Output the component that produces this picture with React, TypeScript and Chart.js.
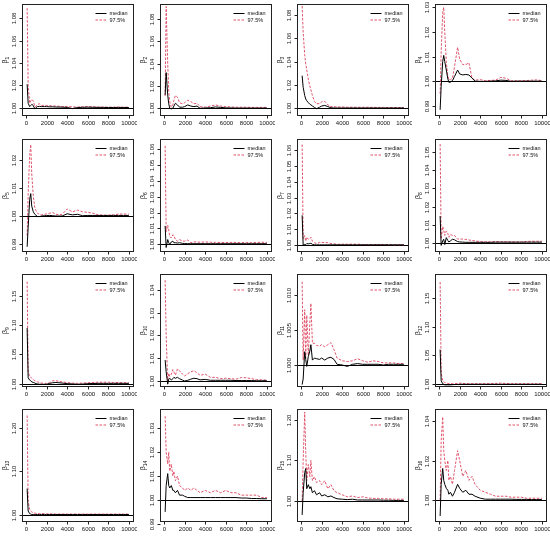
import { useEffect, useRef } from "react";
import { Chart, registerables } from "chart.js";
Chart.register(...registerables);

const ITER = [100, 200, 350, 450, 550, 700, 850, 950, 1100, 1300, 1500, 1800, 2000, 2300, 2600, 2900, 3200, 3500, 4000, 4500, 5000, 5500, 6000, 6500, 7000, 7500, 8000, 8500, 9000, 9500, 10000];
const X_TICKS = [0, 2000, 4000, 6000, 8000, 10000];
const LEGEND_LABELS = ["median", "97.5%"];
const PARAM_SUBS = ["1", "2", "3", "4", "5", "6", "7", "8", "9", "10", "11", "12", "13", "14", "15", "16"];

const MED_1 = [1.021, 1.004, 1.001, 1.002, 1.003, 1.002, 0.9988, 1.000, 1.001, 1.0012, 1.001, 1.001, 1.001, 1.0008, 1.0008, 1.0006, 1.0006, 1.0005, 1.0003, 0.9992, 1.0002, 1.0004, 1.0005, 1.0004, 1.0003, 1.0003, 1.0002, 1.0002, 1.0003, 1.0002, 1.0002];
const UP_1 = [1.089, 1.02, 1.004, 1.006, 1.0075, 1.006, 1.001, 1.001, 1.003, 1.0035, 1.002, 1.0022, 1.002, 1.0018, 1.0016, 1.0015, 1.0013, 1.001, 1.0012, 1.0008, 1.0006, 1.0008, 1.001, 1.0008, 1.0006, 1.0006, 1.0005, 1.0005, 1.0006, 1.0005, 1.0005];
const MED_2 = [1.012, 1.032, 1.012, 1.004, 1.000, 0.9995, 1.000, 1.002, 1.0045, 1.003, 1.001, 1.001, 1.0015, 1.003, 1.002, 1.0015, 1.002, 1.000, 1.0003, 1.0005, 1.0012, 1.0008, 1.0004, 1.0003, 1.0002, 1.0002, 1.0002, 1.0002, 1.0002, 1.0002, 1.0002];
const UP_2 = [1.011, 1.091, 1.04, 1.015, 1.006, 1.001, 1.003, 1.007, 1.0115, 1.010, 1.005, 1.004, 1.005, 1.0072, 1.006, 1.004, 1.0045, 1.0015, 1.001, 1.002, 1.003, 1.002, 1.0015, 1.0012, 1.001, 1.001, 1.001, 1.0008, 1.0008, 1.0008, 1.0008];
const MED_3 = [1.028, 1.018, 1.011, 1.008, 1.0065, 1.005, 1.0035, 1.003, 1.002, 1.0008, 0.9997, 1.001, 1.002, 1.0025, 1.0015, 1.0005, 1.0003, 1.0003, 1.0003, 1.0003, 1.0003, 1.0003, 1.0003, 1.0003, 1.0003, 1.0003, 1.0003, 1.0003, 1.0003, 1.0003, 1.0003];
const UP_3 = [1.0877, 1.065, 1.046, 1.038, 1.033, 1.025, 1.019, 1.016, 1.011, 1.006, 1.004, 1.004, 1.0055, 1.006, 1.003, 1.0015, 1.0014, 1.0012, 1.0012, 1.001, 1.001, 1.0009, 1.0009, 1.0009, 1.0008, 1.0008, 1.0008, 1.0007, 1.0007, 1.0007, 1.0007];
const MED_4 = [0.9885, 0.998, 1.008, 1.0105, 1.008, 1.0046, 1.001, 0.9996, 0.9997, 1.0003, 1.002, 1.0046, 1.003, 1.0026, 1.0028, 1.0026, 1.0013, 1.0001, 1.0000, 1.0000, 1.0001, 1.0002, 1.0005, 1.0004, 1.0000, 1.0001, 1.0001, 1.0001, 1.0001, 1.0001, 1.0001];
const UP_4 = [0.995, 1.012, 1.028, 1.030, 1.02, 1.008, 1.002, 1.0007, 1.0007, 1.0013, 1.006, 1.0138, 1.009, 1.0068, 1.0068, 1.0075, 1.0013, 1.0005, 1.0007, 1.0003, 1.0004, 1.0005, 1.0016, 1.0013, 1.0003, 1.0002, 1.0002, 1.0003, 1.0005, 1.0006, 1.0003];
const MED_5 = [0.989, 0.996, 1.006, 1.008, 1.0035, 1.0015, 1.0006, 1.0003, 0.9998, 0.9998, 1.0000, 1.0001, 1.0002, 1.0002, 1.0001, 1.0000, 1.0000, 1.0000, 1.0008, 1.0004, 1.0006, 1.0001, 1.0002, 1.0002, 1.0002, 1.0002, 1.0002, 1.0002, 1.0002, 1.0002, 1.0002];
const UP_5 = [0.993, 1.008, 1.022, 1.0255, 1.015, 1.007, 1.003, 1.002, 1.001, 1.0006, 1.0004, 1.0006, 1.0008, 1.001, 1.0012, 1.0006, 1.0005, 1.0006, 1.0025, 1.0015, 1.0021, 1.0015, 1.0013, 1.001, 1.0004, 1.0003, 1.0003, 1.0004, 1.0007, 1.0007, 1.0007];
const MED_6 = [1.0116, 0.998, 1.003, 1.001, 1.000, 1.0015, 1.002, 1.001, 1.001, 1.0008, 1.001, 1.0006, 1.0005, 1.0004, 1.0004, 1.0004, 1.0004, 1.0004, 1.0004, 1.0004, 1.0004, 1.0004, 1.0004, 1.0004, 1.0004, 1.0004, 1.0004, 1.0004, 1.0004, 1.0004, 1.0004];
const UP_6 = [1.062, 1.008, 1.012, 1.009, 1.005, 1.004, 1.006, 1.0055, 1.003, 1.002, 1.003, 1.002, 1.002, 1.0027, 1.001, 1.0015, 1.0015, 1.0013, 1.0015, 1.0013, 1.0012, 1.0012, 1.0011, 1.0012, 1.0012, 1.001, 1.0012, 1.001, 1.0012, 1.0013, 1.0012];
const MED_7 = [1.0188, 1.000, 1.0005, 1.0003, 1.001, 1.0008, 1.001, 1.0012, 1.0005, 1.0002, 1.0002, 1.0002, 1.0002, 1.0002, 1.0002, 1.0002, 1.0002, 1.0002, 1.0002, 1.0002, 1.0002, 1.0002, 1.0002, 1.0002, 1.0002, 1.0002, 1.0002, 1.0002, 1.0002, 1.0002, 1.0002];
const UP_7 = [1.0635, 1.004, 1.006, 1.0025, 1.005, 1.0037, 1.004, 1.005, 1.0025, 1.0015, 1.001, 1.0017, 1.0017, 1.0017, 1.0015, 1.001, 1.0008, 1.0005, 1.0006, 1.0006, 1.0006, 1.0006, 1.0004, 1.0003, 1.0003, 1.0004, 1.0004, 1.0003, 1.0002, 1.0002, 1.0002];
const MED_8 = [1.0148, 0.9985, 1.001, 1.0019, 0.999, 1.0028, 1.0012, 1.0004, 1.001, 1.0019, 1.0016, 1.0006, 1.0004, 1.0003, 1.0002, 1.0002, 1.0002, 1.0002, 1.0002, 1.0002, 1.0002, 1.0003, 1.0003, 1.0003, 1.0003, 1.0003, 1.0003, 1.0003, 1.0003, 1.0003, 1.0003];
const UP_8 = [1.0546, 1.002, 1.009, 1.007, 1.004, 1.0065, 1.005, 1.003, 1.0046, 1.004, 1.004, 1.002, 1.002, 1.002, 1.0018, 1.0015, 1.0012, 1.001, 1.0006, 1.0005, 1.0005, 1.0006, 1.0005, 1.0005, 1.0004, 1.0004, 1.0004, 1.0007, 1.0008, 1.0008, 1.0008];
const MED_9 = [1.095, 1.01, 1.006, 1.005, 1.003, 1.002, 1.001, 1.000, 0.9995, 0.999, 0.999, 0.9988, 0.999, 1.0005, 1.0015, 1.002, 1.0015, 1.001, 1.000, 0.9995, 0.999, 0.9993, 1.000, 1.0003, 1.0005, 1.0005, 1.0005, 1.0005, 1.0005, 1.0005, 1.0005];
const UP_9 = [1.174, 1.02, 1.012, 1.011, 1.009, 1.007, 1.005, 1.004, 1.003, 1.002, 1.001, 1.0005, 1.0005, 1.002, 1.005, 1.005, 1.004, 1.003, 1.002, 1.001, 1.0005, 1.001, 1.0015, 1.002, 1.0025, 1.0025, 1.0025, 1.002, 1.002, 1.0015, 1.0015];
const MED_10 = [1.0092, 1.004, 0.9986, 1.0008, 1.0012, 1.0004, 1.001, 1.0016, 1.0012, 1.0016, 1.001, 1.0004, 1.0000, 1.0003, 1.0008, 1.0012, 1.001, 1.0005, 1.0007, 1.0003, 1.0003, 1.0003, 1.0003, 1.0003, 1.0002, 1.0002, 1.0002, 1.0002, 1.0001, 1.0001, 1.0001];
const UP_10 = [1.0443, 1.02, 0.9995, 1.0034, 1.002, 1.003, 1.005, 1.004, 1.0026, 1.0053, 1.0045, 1.003, 1.0022, 1.0032, 1.004, 1.0045, 1.0036, 1.0025, 1.003, 1.0016, 1.0016, 1.001, 1.0012, 1.001, 1.0008, 1.0015, 1.0014, 1.001, 1.0006, 1.0005, 1.0004];
const MED_11 = [0.9972, 0.998, 1.0019, 1.0008, 0.9998, 1.0012, 1.002, 1.0029, 1.0007, 1.001, 1.0009, 1.0008, 1.001, 1.0007, 1.001, 1.0011, 1.0008, 1.0001, 1.0000, 0.9998, 1.0001, 1.0002, 1.0001, 1.0001, 1.0001, 1.0001, 1.0000, 1.0001, 1.0001, 1.0001, 1.0001];
const UP_11 = [1.0119, 1.0007, 1.0079, 1.0010, 1.0071, 1.0014, 1.006, 1.0088, 1.0031, 1.0031, 1.0028, 1.0027, 1.0029, 1.0026, 1.0029, 1.0032, 1.0022, 1.0010, 1.0006, 1.0005, 1.0006, 1.0009, 1.0006, 1.0004, 1.0006, 1.0005, 1.0003, 1.0003, 1.0003, 1.0002, 1.0002];
const MED_12 = [1.06, 1.006, 1.001, 1.000, 0.999, 0.999, 0.999, 0.999, 0.999, 0.9993, 0.9995, 0.9997, 1.000, 1.000, 1.000, 1.000, 1.000, 1.000, 1.000, 1.000, 1.000, 1.000, 1.000, 1.000, 1.000, 1.000, 1.000, 1.000, 1.000, 1.000, 1.000];
const UP_12 = [1.177, 1.02, 1.006, 1.004, 1.003, 1.002, 1.0015, 1.0012, 1.001, 1.001, 1.001, 1.0015, 1.002, 1.0015, 1.001, 1.001, 1.001, 1.001, 1.001, 1.001, 1.001, 1.0015, 1.002, 1.0015, 1.001, 1.001, 1.001, 1.001, 1.001, 1.001, 1.001];
const MED_13 = [1.06, 1.008, 1.002, 1.001, 1.000, 1.000, 1.000, 1.000, 1.000, 1.000, 1.000, 1.000, 1.000, 1.000, 1.000, 1.000, 1.000, 1.000, 1.000, 1.000, 1.000, 1.000, 1.000, 1.000, 1.000, 1.000, 1.000, 1.000, 1.000, 1.000, 1.000];
const UP_13 = [1.23, 1.03, 1.012, 1.008, 1.006, 1.004, 1.003, 1.003, 1.002, 1.002, 1.002, 1.002, 1.0015, 1.0015, 1.0015, 1.001, 1.001, 1.001, 1.001, 1.001, 1.001, 1.001, 1.001, 1.001, 1.001, 1.001, 1.001, 1.001, 1.001, 1.001, 1.001];
const MED_14 = [0.995, 1.006, 1.011, 1.006, 1.005, 1.006, 1.004, 1.004, 1.003, 1.004, 1.002, 1.002, 1.0015, 1.001, 1.001, 1.001, 1.001, 1.001, 1.001, 1.001, 1.001, 1.001, 1.001, 1.001, 1.001, 1.0008, 1.0008, 1.0006, 1.0006, 1.0005, 1.0005];
const UP_14 = [1.035, 1.02, 1.015, 1.02, 1.012, 1.015, 1.01, 1.012, 1.008, 1.01, 1.006, 1.005, 1.004, 1.005, 1.004, 1.005, 1.004, 1.003, 1.004, 1.003, 1.004, 1.003, 1.004, 1.003, 1.003, 1.002, 1.002, 1.002, 1.002, 1.001, 1.001];
const MED_15 = [0.965, 1.02, 1.07, 1.08, 1.03, 1.04, 1.03, 1.035, 1.02, 1.025, 1.015, 1.02, 1.012, 1.015, 1.01, 1.012, 1.008, 1.005, 1.004, 1.003, 1.004, 1.002, 1.002, 1.002, 1.002, 1.002, 1.0015, 1.0015, 1.001, 1.001, 1.001];
const UP_15 = [1.00, 1.10, 1.22, 1.12, 1.05, 1.09, 1.06, 1.10, 1.05, 1.06, 1.045, 1.05, 1.04, 1.05, 1.03, 1.04, 1.025, 1.02, 1.015, 1.01, 1.012, 1.008, 1.01, 1.007, 1.006, 1.006, 1.005, 1.005, 1.004, 1.004, 1.004];
const MED_16 = [0.992, 1.008, 1.016, 1.01, 1.008, 1.006, 1.005, 1.003, 1.004, 1.002, 1.004, 1.008, 1.006, 1.004, 1.005, 1.003, 1.003, 1.002, 1.001, 1.0005, 1.0005, 1.0005, 1.0005, 1.0005, 1.0005, 1.0004, 1.0004, 1.0004, 1.0003, 1.0003, 1.0003];
const UP_16 = [1.00, 1.03, 1.042, 1.025, 1.02, 1.015, 1.02, 1.01, 1.012, 1.008, 1.015, 1.025, 1.02, 1.012, 1.015, 1.01, 1.012, 1.008, 1.005, 1.004, 1.003, 1.002, 1.002, 1.002, 1.0015, 1.0015, 1.0015, 1.001, 1.001, 1.001, 1.001];

const YT_A = [1.0, 1.02, 1.04, 1.06, 1.08];
const YT_B = [0.99, 1.0, 1.01, 1.02, 1.03];
const YT_C = [0.99, 1.0, 1.01, 1.02];
const YT_D = [1.0, 1.01, 1.02, 1.03, 1.04, 1.05, 1.06];
const YT_E = [1.0, 1.01, 1.02, 1.03, 1.04, 1.05];
const YT_F = [1.0, 1.05, 1.1, 1.15];
const YT_G = [1.0, 1.01, 1.02, 1.03, 1.04];
const YT_H = [1.0, 1.005, 1.01];
const YT_I = [1.0, 1.1, 1.2];
const YT_J = [1.0, 1.02, 1.04];

const PANELS = [
  { med: MED_1, up: UP_1, ticks: YT_A, lo: 0.9935, hi: 1.0927, dec: 2 },
  { med: MED_2, up: UP_2, ticks: YT_A, lo: 0.994, hi: 1.0933, dec: 2 },
  { med: MED_3, up: UP_3, ticks: YT_A, lo: 0.9943, hi: 1.0894, dec: 2 },
  { med: MED_4, up: UP_4, ticks: YT_B, lo: 0.9864, hi: 1.0313, dec: 2 },
  { med: MED_5, up: UP_5, ticks: YT_C, lo: 0.9875, hi: 1.0275, dec: 2 },
  { med: MED_6, up: UP_6, ticks: YT_D, lo: 0.9958, hi: 1.0663, dec: 2 },
  { med: MED_7, up: UP_7, ticks: YT_D, lo: 0.9963, hi: 1.067, dec: 2 },
  { med: MED_8, up: UP_8, ticks: YT_E, lo: 0.9954, hi: 1.0574, dec: 2 },
  { med: MED_9, up: UP_9, ticks: YT_F, lo: 0.996, hi: 1.187, dec: 2 },
  { med: MED_10, up: UP_10, ticks: YT_G, lo: 0.9978, hi: 1.047, dec: 2 },
  { med: MED_11, up: UP_11, ticks: YT_H, lo: 0.997, hi: 1.013, dec: 3 },
  { med: MED_12, up: UP_12, ticks: YT_F, lo: 0.997, hi: 1.191, dec: 2 },
  { med: MED_13, up: UP_13, ticks: YT_I, lo: 0.985, hi: 1.245, dec: 2 },
  { med: MED_14, up: UP_14, ticks: YT_B, lo: 0.9912, hi: 1.038, dec: 2 },
  { med: MED_15, up: UP_15, ticks: YT_I, lo: 0.95, hi: 1.2275, dec: 2 },
  { med: MED_16, up: UP_16, ticks: YT_J, lo: 0.9895, hi: 1.046, dec: 2 },
];

const RED = "#DF536B";
const FONT = '"Liberation Sans", Arial, sans-serif';

const framePlugin = {
  id: "rframe",
  beforeDatasetsDraw(chart: any) {
    const { ctx, chartArea: a, scales } = chart;
    const y1 = Math.round(scales.y.getPixelForValue(1)) + 0.5;
    ctx.save();
    ctx.strokeStyle = "#000";
    ctx.lineWidth = 1;
    ctx.beginPath();
    ctx.moveTo(a.left, y1);
    ctx.lineTo(a.right, y1);
    ctx.stroke();
    ctx.restore();
  },
  afterDraw(chart: any, _args: any, opts: any) {
    const { ctx, chartArea: a, scales } = chart;
    const L = Math.round(a.left) + 0.5;
    const R = Math.round(a.right) + 0.5;
    const T = Math.round(a.top) + 0.5;
    const B = Math.round(a.bottom) + 0.5;
    ctx.save();
    ctx.strokeStyle = "#222";
    ctx.fillStyle = "#111";
    ctx.lineWidth = 1;
    ctx.strokeRect(L, T, R - L, B - T);
    ctx.font = `6px ${FONT}`;
    ctx.textAlign = "center";
    ctx.textBaseline = "middle";
    for (const v of X_TICKS) {
      const px = Math.round(scales.x.getPixelForValue(v)) + 0.5;
      ctx.beginPath();
      ctx.moveTo(px, B);
      ctx.lineTo(px, B + 3);
      ctx.stroke();
      ctx.fillText(String(v), px, B + 8);
    }
    for (const v of opts.ticks as number[]) {
      const py = Math.round(scales.y.getPixelForValue(v)) + 0.5;
      ctx.beginPath();
      ctx.moveTo(L, py);
      ctx.lineTo(L - 3, py);
      ctx.stroke();
      ctx.save();
      ctx.translate(L - 8, py);
      ctx.rotate(-Math.PI / 2);
      ctx.fillText(v.toFixed(opts.dec), 0, 0);
      ctx.restore();
    }
    ctx.save();
    ctx.translate(L - 17, (T + B) / 2);
    ctx.rotate(-Math.PI / 2);
    ctx.textAlign = "left";
    ctx.textBaseline = "middle";
    const main = "\u03b2";
    const sub = opts.sub as string;
    ctx.font = `5px ${FONT}`;
    const sw = ctx.measureText(sub).width;
    ctx.font = `7px ${FONT}`;
    const mw = ctx.measureText(main).width;
    const start = -(mw + sw) / 2;
    ctx.fillText(main, start, 0);
    ctx.font = `5px ${FONT}`;
    ctx.fillText(sub, start + mw, 2);
    ctx.restore();
    const lx1 = R - 38;
    const lx2 = R - 27;
    const ly1 = T + 9;
    const ly2 = T + 15.5;
    ctx.strokeStyle = "#000";
    ctx.beginPath();
    ctx.moveTo(lx1, ly1);
    ctx.lineTo(lx2, ly1);
    ctx.stroke();
    ctx.strokeStyle = RED;
    ctx.setLineDash([2.5, 1.5]);
    ctx.beginPath();
    ctx.moveTo(lx1, ly2);
    ctx.lineTo(lx2, ly2);
    ctx.stroke();
    ctx.setLineDash([]);
    ctx.font = `5.5px ${FONT}`;
    ctx.textAlign = "left";
    ctx.fillStyle = "#111";
    ctx.fillText(LEGEND_LABELS[0], R - 24, ly1);
    ctx.fillText(LEGEND_LABELS[1], R - 24, ly2);
    ctx.restore();
  },
};

function Panel({ idx }: { idx: number }) {
  const ref = useRef<HTMLCanvasElement>(null);
  const c = idx % 4;
  const r = Math.floor(idx / 4);
  const left = Math.floor(c * 137.5);
  const width = Math.floor((c + 1) * 137.5) - left;
  const top = Math.floor(r * 134.75);
  const height = Math.floor((r + 1) * 134.75) - top;
  const bl = 22 + c * 137.7 - left;
  const br = bl + 111;
  const bt = 3.5 + r * 135.3 - top;
  const bb = bt + 112;
  const p = PANELS[idx];

  useEffect(() => {
    const chart = new Chart(ref.current!, {
      type: "line",
      data: {
        datasets: [
          {
            data: ITER.map((x, i) => ({ x, y: p.med[i] })),
            borderColor: "#000",
            borderWidth: 1,
            pointRadius: 0,
            tension: 0,
          },
          {
            data: ITER.map((x, i) => ({ x, y: p.up[i] })),
            borderColor: RED,
            borderWidth: 1,
            borderDash: [2.5, 1.5],
            pointRadius: 0,
            tension: 0,
          },
        ],
      },
      options: {
        responsive: false,
        animation: false,
        events: [],
        layout: {
          padding: {
            left: Math.round(bl),
            right: Math.round(width - br),
            top: Math.round(bt),
            bottom: Math.round(height - bb),
          },
        },
        scales: {
          x: { type: "linear", min: -400, max: 10400, display: false },
          y: { type: "linear", min: p.lo, max: p.hi, display: false },
        },
        plugins: {
          legend: { display: false },
          tooltip: { enabled: false },
          rframe: { ticks: p.ticks, dec: p.dec, sub: PARAM_SUBS[idx] },
        } as any,
      },
      plugins: [framePlugin],
    });
    return () => chart.destroy();
  }, []);

  return (
    <canvas
      ref={ref}
      width={width}
      height={height}
      style={{ position: "absolute", left, top, width, height }}
    />
  );
}

export default function App() {
  return (
    <div style={{ position: "absolute", left: 0, top: 0, width: 550, height: 539, background: "#fff" }}>
      {PANELS.map((_, i) => (
        <Panel key={i} idx={i} />
      ))}
    </div>
  );
}
